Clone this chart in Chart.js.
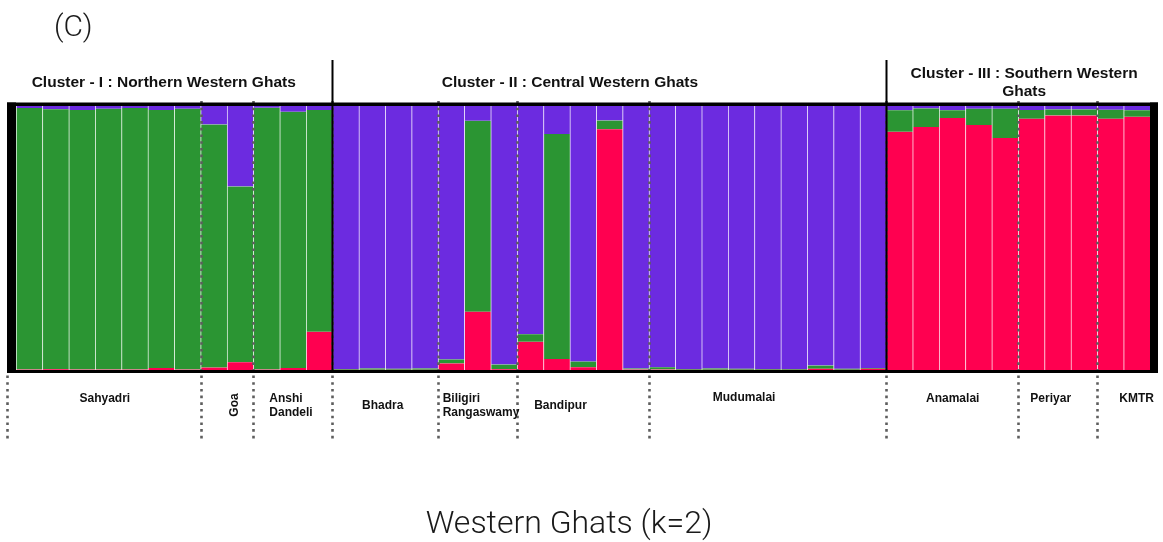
<!DOCTYPE html>
<html>
<head>
<meta charset="utf-8">
<script src="https://cdn.jsdelivr.net/npm/chart.js@4/dist/chart.umd.min.js"></script>
<style>
  html, body { margin: 0; padding: 0; background: #ffffff; }
  canvas { display: block; }
</style>
</head>
<body>
<canvas id="structure" width="1163" height="542"></canvas>
<script>
// Sampling sites, west-to-east along the Western Ghats, and individuals per site
const populations = ['Sahyadri', 'Goa', 'Anshi\nDandeli', 'Bhadra', 'Biligiri\nRangaswamy',
                     'Bandipur', 'Mudumalai', 'Anamalai', 'Periyar', 'KMTR'];
const populationSizes = [7, 2, 3, 4, 3, 5, 9, 5, 3, 2];

// Genetic clusters and how many sites each one groups
const clusterNames = ['Cluster - I : Northern Western Ghats',
                      'Cluster - II : Central Western Ghats',
                      'Cluster - III : Southern Western\nGhats'];
const clusterSizes = [3, 4, 3];

const panelLabel = '(C)';
const chartTitle = 'Western Ghats (k=2)';

// Ancestry proportions (Q) for each individual, one array per colour
const ancestryRed = [
  0.002, 0.003, 0.002, 0.002, 0.002, 0.008, 0.002,
  0.009, 0.029,
  0.002, 0.008, 0.145,
  0.001, 0.001, 0.001, 0.001,
  0.025, 0.221, 0.003,
  0.107, 0.042, 0.010, 0.912, 0.002,
  0.002, 0.001, 0.001, 0.001, 0.001, 0.001, 0.005, 0.001, 0.005,
  0.902, 0.920, 0.955, 0.928, 0.879,
  0.952, 0.964, 0.964,
  0.952, 0.959
];
const ancestryGreen = [
  0.990, 0.985, 0.983, 0.988, 0.990, 0.977, 0.988,
  0.921, 0.666,
  0.991, 0.970, 0.840,
  0.003, 0.005, 0.004, 0.005,
  0.015, 0.723, 0.018,
  0.028, 0.852, 0.022, 0.033, 0.004,
  0.008, 0.003, 0.005, 0.004, 0.003, 0.003, 0.012, 0.004, 0.003,
  0.082, 0.071, 0.029, 0.062, 0.111,
  0.033, 0.023, 0.023,
  0.034, 0.025
];
const ancestryPurple = [
  0.008, 0.012, 0.015, 0.010, 0.008, 0.015, 0.010,
  0.070, 0.305,
  0.007, 0.022, 0.015,
  0.996, 0.994, 0.995, 0.994,
  0.960, 0.056, 0.979,
  0.865, 0.106, 0.968, 0.055, 0.994,
  0.990, 0.996, 0.994, 0.995, 0.996, 0.996, 0.983, 0.995, 0.992,
  0.016, 0.009, 0.016, 0.010, 0.010,
  0.015, 0.013, 0.013,
  0.014, 0.016
];

// One category per individual, named after its site
const individuals = populations.flatMap((p, i) =>
  Array.from({ length: populationSizes[i] }, (_, k) => p.replace('\n', ' ') + ' ' + (k + 1)));

const RED = '#ff0050', GREEN = '#2b9533', PURPLE = '#6c2be0';
const DOT = '#5e5e5e';
const BOLD = '"Liberation Sans", Arial, Helvetica, sans-serif';
const LIGHT = 'Roboto, "Open Sans", Lato, sans-serif';

// Hand placement of the annotation texts relative to their groups
const siteLabelStyle = [
  { dx: -3.5, y: 399 },
  { dx: 8, y: 405, rotate: true },
  { left: 16, y: 399, lh: 14 },
  { dx: -2.5, y: 406 },
  { left: 4.7, y: 398.3, lh: 14.4 },
  { dx: -22.5, y: 406 },
  { dx: -23.5, y: 398 },
  { dx: 0.5, y: 399 },
  { dx: -7, y: 399 },
  { dx: 13, y: 399 }
];
const clusterLabelStyle = [
  { dx: -6, y: 83 },
  { dx: -39.5, y: 83 },
  { dx: 2, y: 74, lh: 18 }
];

function cumulative(arr) {
  const out = [0];
  arr.forEach(v => out.push(out[out.length - 1] + v));
  return out;
}

const structurePlot = {
  id: 'structurePlot',
  afterDatasetsDraw(chart) {
    const { ctx, chartArea: a, scales: { x } } = chart;
    const n = individuals.length;
    const edge = i => i <= 0 ? a.left : i >= n ? a.right
      : (x.getPixelForValue(i - 1) + x.getPixelForValue(i)) / 2;

    const popStart = cumulative(populationSizes);          // in individuals
    const clusterStart = cumulative(clusterSizes).map(p => popStart[p]);
    const frameL = a.left - 9, frameR = a.right + 8;

    ctx.save();

    // dotted site boundaries through the plot
    ctx.strokeStyle = DOT;
    ctx.lineWidth = 2.6;
    ctx.setLineDash([2.6, 4.1]);
    for (let p = 1; p < populations.length; p++) {
      const xx = Math.round(edge(popStart[p])) + 0.5;
      ctx.beginPath();
      ctx.moveTo(xx, a.top - 5);
      ctx.lineTo(xx, a.bottom);
      ctx.stroke();
    }
    // dotted site boundaries below the plot
    const below = [frameL + 0.5];
    for (let p = 1; p < populations.length; p++) below.push(Math.round(edge(popStart[p])) + 0.5);
    below.forEach(xx => {
      ctx.beginPath();
      ctx.moveTo(xx, a.bottom + 5.5);
      ctx.lineTo(xx, a.bottom + 70);
      ctx.stroke();
    });
    ctx.setLineDash([]);

    // solid cluster dividers
    ctx.strokeStyle = '#000';
    ctx.lineWidth = 2;
    for (let c = 1; c < clusterSizes.length; c++) {
      const xx = Math.round(edge(clusterStart[c])) + 0.5;
      ctx.beginPath();
      ctx.moveTo(xx, 60);
      ctx.lineTo(xx, a.bottom);
      ctx.stroke();
    }

    // heavy frame
    ctx.fillStyle = '#000';
    ctx.fillRect(frameL, a.top - 3.5, a.left - frameL, a.height + 6.5);
    ctx.fillRect(a.right, a.top - 3.5, frameR - a.right, a.height + 6.5);
    ctx.fillRect(frameL, a.top - 3.5, frameR - frameL, 3.5);
    ctx.fillRect(frameL, a.bottom, frameR - frameL, 3);

    // site names
    ctx.fillStyle = '#111';
    ctx.font = 'bold 12px ' + BOLD;
    ctx.textBaseline = 'middle';
    populations.forEach((name, p) => {
      const s = siteLabelStyle[p];
      const x0 = edge(popStart[p]), x1 = edge(popStart[p + 1]);
      const lines = name.split('\n');
      if (s.rotate) {
        ctx.save();
        ctx.translate((x0 + x1) / 2 + s.dx, s.y);
        ctx.rotate(-Math.PI / 2);
        ctx.textAlign = 'center';
        ctx.fillText(name, 0, 0);
        ctx.restore();
      } else if (s.left !== undefined) {
        ctx.textAlign = 'left';
        lines.forEach((t, k) => ctx.fillText(t, x0 + s.left, s.y + k * s.lh));
      } else {
        ctx.textAlign = 'center';
        ctx.fillText(name, (x0 + x1) / 2 + s.dx, s.y);
      }
    });

    // cluster headers
    ctx.font = 'bold 15.5px ' + BOLD;
    ctx.textAlign = 'center';
    clusterNames.forEach((name, c) => {
      const s = clusterLabelStyle[c];
      const x0 = c === 0 ? frameL : edge(clusterStart[c]);
      const x1 = c === clusterSizes.length - 1 ? frameR : edge(clusterStart[c + 1]);
      name.split('\n').forEach((t, k) => ctx.fillText(t, (x0 + x1) / 2 + s.dx, s.y + k * (s.lh || 0)));
    });

    // panel letter and title
    ctx.fillStyle = '#1a1a1a';
    ctx.font = '300 30px ' + LIGHT;
    ctx.textAlign = 'left';
    ctx.textBaseline = 'alphabetic';
    ctx.fillText(panelLabel, 54, 36);
    ctx.font = '300 32px ' + LIGHT;
    ctx.textAlign = 'center';
    ctx.fillText(chartTitle, 569, 533);

    ctx.restore();
  }
};

const divider = { top: 0, bottom: 0, left: 1, right: 0 };

new Chart(document.getElementById('structure'), {
  type: 'bar',
  data: {
    labels: individuals,
    datasets: [
      { label: 'Q1', data: ancestryRed, backgroundColor: RED },
      { label: 'Q2', data: ancestryGreen, backgroundColor: GREEN },
      { label: 'Q3', data: ancestryPurple, backgroundColor: PURPLE }
    ].map(d => Object.assign(d, {
      barPercentage: 1,
      categoryPercentage: 1,
      borderWidth: divider,
      borderColor: 'rgba(255,255,255,0.09)',
      borderSkipped: false
    }))
  },
  options: {
    responsive: false,
    devicePixelRatio: 1,
    animation: false,
    layout: { padding: { left: 16, right: 13, top: 106, bottom: 172 } },
    scales: {
      x: { stacked: true, display: false },
      y: { stacked: true, display: false, min: 0, max: 1 }
    },
    plugins: { legend: { display: false }, tooltip: { enabled: false } }
  },
  plugins: [structurePlot]
});
</script>
</body>
</html>
